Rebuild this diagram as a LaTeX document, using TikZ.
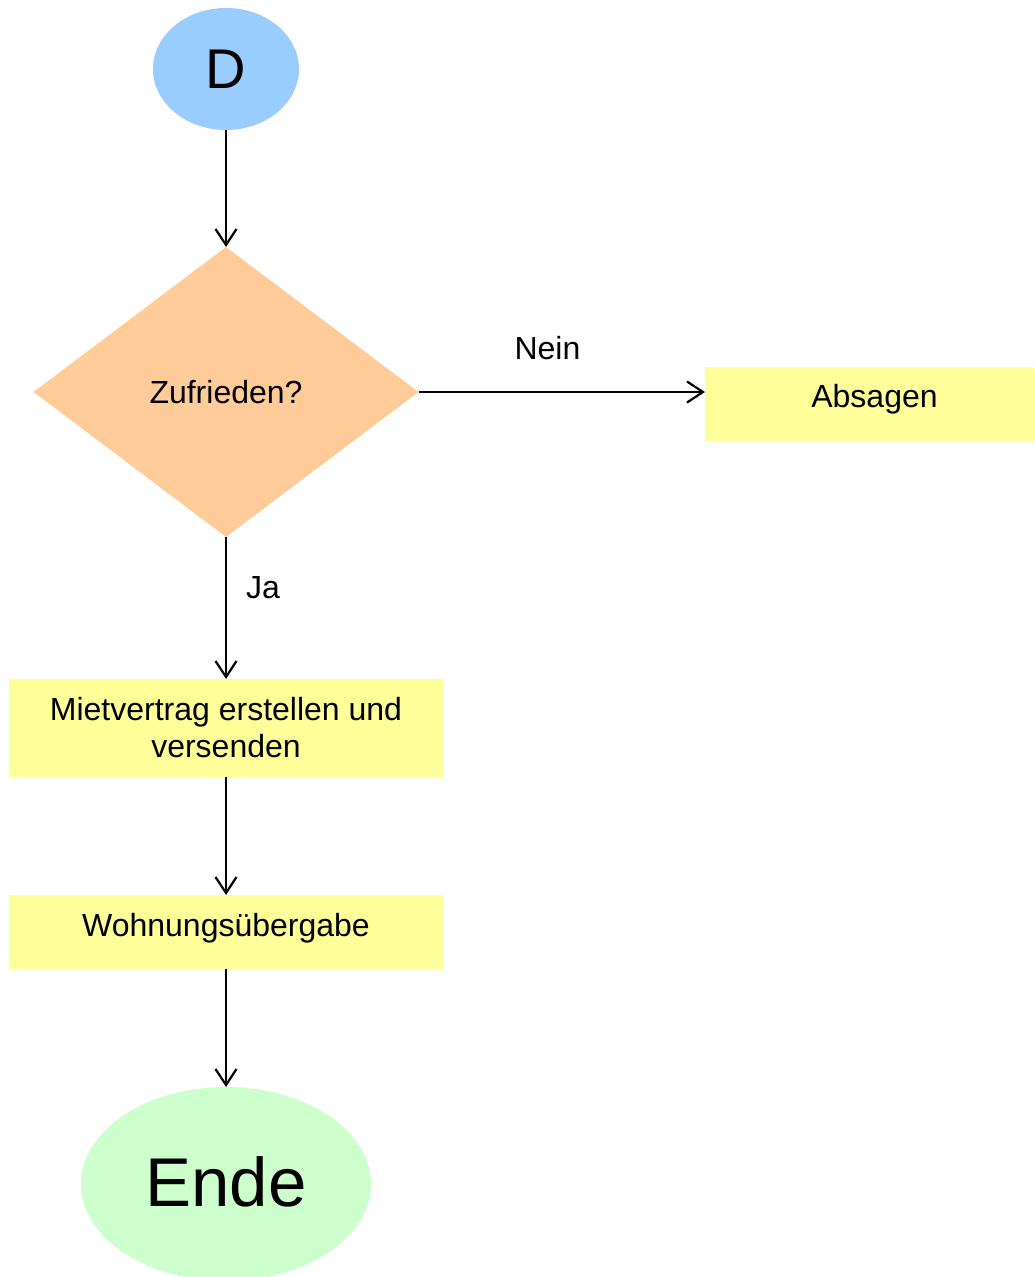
\documentclass[tikz,border=0pt]{standalone}
\usepackage{fontspec}
\setmainfont{Liberation Sans}
\usetikzlibrary{shapes.geometric,arrows.meta}
\definecolor{skyblue}{HTML}{99CCFF}
\definecolor{peach}{HTML}{FFCC99}
\definecolor{paleyellow}{HTML}{FFFF99}
\definecolor{palegreen}{HTML}{CCFFCC}

\begin{document}
\begin{tikzpicture}[x=1pt,y=1pt,
    terminal/.style ={ellipse, inner sep=0pt, outer sep=0pt},
    decision/.style ={diamond, fill=peach, inner sep=0pt, outer sep=0pt, minimum width=385pt, minimum height=290pt},
    activity/.style ={rectangle, fill=paleyellow, inner sep=0pt, outer sep=0pt, align=center},
    flow/.style ={line width=2.2pt, -{Straight Barb[length=16pt,width=21pt]}},
    txt/.style ={font=\fontsize{32}{37}\selectfont}]
   \useasboundingbox (0,0) rectangle (1034,-1277);
   \node[terminal, fill=skyblue, minimum width=146pt, minimum height=122pt, font=\fontsize{56}{66}\selectfont] (D) at (226,-69) {D};
   \node[decision, txt] (zufrieden) at (226,-392) {Zufrieden?};
   \node[activity, txt, minimum width=339pt, minimum height=74pt, text height=22pt, text depth=16pt] (absagen) at (874.5,-404) {Absagen};
   \node[activity, txt, minimum width=434pt, minimum height=98pt] (vertrag) at (226,-728) {Mietvertrag erstellen und\\versenden};
   \node[activity, txt, minimum width=434pt, minimum height=74pt, text height=22pt, text depth=14pt] (uebergabe) at (226,-932) {Wohnungsübergabe};
   \node[terminal, fill=palegreen, minimum width=290pt, minimum height=194pt, text height=52pt, text depth=8pt, font=\fontsize{69}{82}\selectfont] (ende) at (226,-1184) {Ende};
   \draw[flow] (D) -- (zufrieden);
   \draw[flow] (zufrieden.east) -- node[pos=0.45, above=31pt, inner sep=0pt, txt] {Nein} (zufrieden.east -| absagen.west);
   \draw[flow] (zufrieden) -- node[pos=0.436, anchor=base west, xshift=19pt, inner sep=0pt, txt] {Ja} (vertrag);
   \draw[flow] (vertrag) -- (uebergabe);
   \draw[flow] (uebergabe) -- (ende);
 \end{tikzpicture}
\end{document}
